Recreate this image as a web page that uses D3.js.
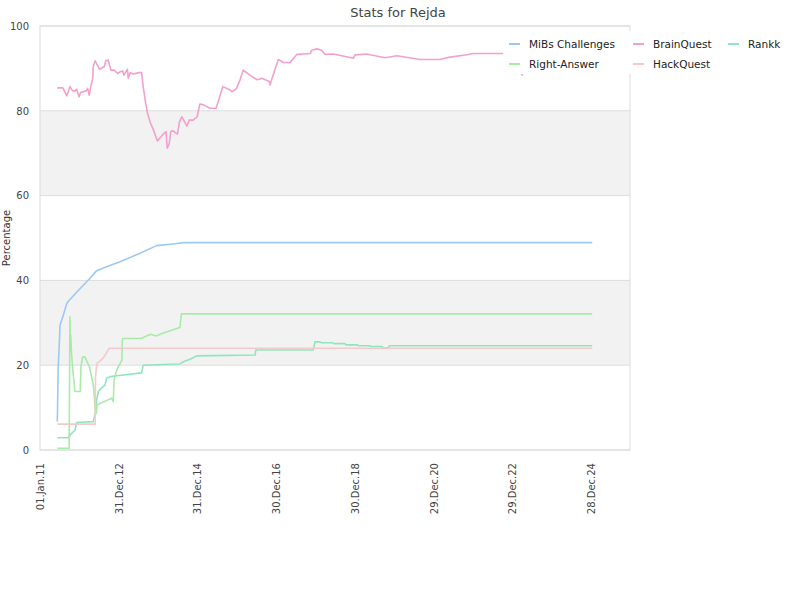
<!DOCTYPE html>
<html>
<head>
<meta charset="utf-8">
<script src="https://cdn.jsdelivr.net/npm/d3@7"></script>
<style>
  body { margin: 0; background: #fff; }
  svg { font-family: "DejaVu Sans", sans-serif; }
  .tick text { fill: #444; }
</style>
</head>
<body>
<svg id="chart" width="800" height="600"></svg>
<script>
// values, x as decimal years
var seriesNames = ['MiBs Challenges', 'BrainQuest', 'Rankk', 'Right-Answer', 'HackQuest'];
var seriesColors = ['#9cc8f4', '#f3a0cc', '#8ee6be', '#a8eba8', '#f5c9c9'];

var mibsPoints = [
    [2011.44, 6.7], [2011.46, 18.9], [2011.51, 29.5], [2011.58, 31.4], [2011.68, 34.6],
    [2011.76, 35.5], [2012.02, 38.1], [2012.27, 40.5], [2012.44, 42.3], [2012.69, 43.2],
    [2013.03, 44.4], [2013.54, 46.4], [2013.96, 48.2], [2014.38, 48.6], [2014.64, 48.9],
    [2025.02, 48.9]
];

var brainPoints = [
    [2011.44, 85.4], [2011.58, 85.4], [2011.68, 83.5], [2011.76, 85.7], [2011.83, 84.7],
    [2011.89, 84.7], [2011.93, 85.1], [2011.99, 83.3], [2012.03, 84.3], [2012.17, 84.7],
    [2012.21, 85.3], [2012.25, 83.7], [2012.29, 85.7], [2012.34, 87.7], [2012.35, 90.4],
    [2012.40, 91.8], [2012.51, 89.8], [2012.63, 90.4], [2012.67, 91.8], [2012.73, 92.0],
    [2012.80, 89.6], [2012.88, 89.6], [2012.97, 88.8], [2013.03, 89.2], [2013.10, 89.4],
    [2013.13, 88.4], [2013.22, 89.8], [2013.24, 87.7], [2013.29, 89.0], [2013.37, 88.7],
    [2013.50, 89.0], [2013.58, 89.0], [2013.62, 85.7], [2013.67, 82.5], [2013.73, 79.4],
    [2013.81, 77.0], [2013.88, 75.5], [2013.98, 72.9], [2014.15, 74.7], [2014.20, 75.1],
    [2014.23, 71.2], [2014.28, 72.2], [2014.32, 75.1], [2014.37, 75.3], [2014.49, 74.5],
    [2014.54, 77.4], [2014.60, 78.6], [2014.73, 76.4], [2014.79, 77.8], [2014.89, 77.8],
    [2014.99, 78.6], [2015.06, 81.6], [2015.15, 81.4], [2015.32, 80.6], [2015.47, 80.6],
    [2015.55, 82.9], [2015.64, 85.7], [2015.83, 84.9], [2015.87, 84.5], [2015.98, 85.1],
    [2016.08, 87.3], [2016.16, 89.6], [2016.33, 88.4], [2016.52, 87.3], [2016.63, 87.7],
    [2016.82, 86.9], [2016.84, 86.1], [2016.88, 87.3], [2017.05, 92.1], [2017.18, 91.4],
    [2017.35, 91.4], [2017.52, 93.3], [2017.86, 93.5], [2017.90, 94.3], [2018.03, 94.6],
    [2018.15, 94.3], [2018.24, 93.3], [2018.45, 93.4], [2018.96, 92.4], [2019.00, 93.2],
    [2019.30, 93.4], [2019.38, 93.2], [2019.76, 92.5], [2020.06, 93.0], [2020.65, 92.1],
    [2021.16, 92.1], [2021.37, 92.6], [2021.84, 93.2], [2022.00, 93.5], [2023.21, 93.5],
    [2023.24, 88.4], [2023.27, 93.5], [2025.02, 93.5]
];

var rankkPoints = [
    [2011.44, 2.9], [2011.72, 2.9], [2011.80, 3.9], [2011.89, 4.7], [2011.93, 6.5],
    [2012.35, 6.7], [2012.40, 8.6], [2012.44, 11.8], [2012.48, 13.8], [2012.56, 14.6],
    [2012.65, 15.3], [2012.69, 16.9], [2012.78, 17.3], [2012.95, 17.5], [2013.58, 18.2],
    [2013.62, 20.0], [2014.55, 20.3], [2014.64, 20.8], [2014.81, 21.4], [2014.98, 22.2],
    [2016.46, 22.4], [2016.48, 23.6], [2017.94, 23.6], [2017.98, 25.5], [2018.10, 25.5],
    [2018.15, 25.3], [2018.43, 25.3], [2018.45, 25.1], [2018.74, 25.1], [2018.77, 24.8],
    [2019.06, 24.8], [2019.08, 24.6], [2019.38, 24.6], [2019.40, 24.4], [2019.68, 24.4],
    [2019.71, 24.1], [2019.85, 24.1], [2019.87, 24.6], [2025.02, 24.6]
];

var rightPoints = [
    [2011.44, 0.4], [2011.74, 0.4], [2011.76, 31.4], [2011.77, 24.0], [2011.78, 27.0],
    [2011.80, 22.8], [2011.84, 18.1], [2011.89, 13.8], [2012.02, 13.8], [2012.04, 19.7],
    [2012.08, 21.9], [2012.14, 22.0], [2012.25, 19.7], [2012.31, 17.3], [2012.36, 14.9],
    [2012.40, 9.8], [2012.43, 8.6], [2012.45, 10.6], [2012.53, 11.0], [2012.82, 12.2],
    [2012.86, 11.4], [2012.88, 16.5], [2012.95, 18.9], [2013.08, 21.2], [2013.09, 25.9],
    [2013.10, 26.3], [2013.56, 26.3], [2013.81, 27.3], [2013.94, 26.9], [2014.10, 27.5],
    [2014.55, 28.9], [2014.59, 32.1], [2025.02, 32.1]
];

var hackPoints = [
    [2011.44, 6.1], [2012.40, 6.1], [2012.41, 17.3], [2012.44, 20.4], [2012.60, 21.6],
    [2012.76, 24.0], [2025.02, 24.0]
];

var yTicks = [0, 20, 40, 60, 80, 100];
var yBands = [[20, 40], [60, 80]];

function toDate(yr) {
    return new Date(new Date(2011, 0, 1).getTime() + (yr - 2011) * 365.25 * 864e5);
}

var allSeries = [mibsPoints, brainPoints, rankkPoints, rightPoints, hackPoints].map(function(pts, i) {
    return { name: seriesNames[i], color: seriesColors[i], values: pts.map(function(p) { return { date: toDate(p[0]), value: p[1] }; }) };
});

var plotLeft = 40, plotRight = 630, plotTop = 26, plotBottom = 450;
var svg = d3.select('#chart');

var x = d3.scaleTime()
    .domain([new Date(2011, 0, 1), new Date(2025, 11, 24)])
    .range([plotLeft, plotRight]);
var y = d3.scaleLinear().domain([0, 100]).range([plotBottom, plotTop]);

// bands and grid
svg.selectAll('.band')
    .data(yBands)
    .join('rect')
    .attr('x', plotLeft)
    .attr('width', plotRight - plotLeft)
    .attr('y', d => y(d[1]))
    .attr('height', d => y(d[0]) - y(d[1]))
    .attr('fill', '#f2f2f2');

svg.selectAll('.grid')
    .data(yTicks)
    .join('line')
    .attr('x1', plotLeft).attr('x2', plotRight)
    .attr('y1', d => y(d)).attr('y2', d => y(d))
    .attr('stroke', '#dcdcdc');

svg.append('rect')
    .attr('x', plotLeft).attr('y', plotTop)
    .attr('width', plotRight - plotLeft).attr('height', plotBottom - plotTop)
    .attr('fill', 'none').attr('stroke', '#dcdcdc');

// axes
var yAxis = svg.append('g')
    .attr('transform', 'translate(' + plotLeft + ',0)')
    .call(d3.axisLeft(y).tickValues(yTicks).tickSize(0).tickPadding(11))
    .attr('font-family', 'DejaVu Sans');
yAxis.select('.domain').remove();
yAxis.selectAll('text').attr('font-size', 10);

var xTicks = d3.range(8).map(i => d3.timeDay.offset(new Date(2011, 0, 1), i * 730));
var xAxis = svg.append('g')
    .attr('transform', 'translate(0,' + plotBottom + ')')
    .call(d3.axisBottom(x).tickValues(xTicks).tickFormat(d3.timeFormat('%d.%b.%y')).tickSize(0))
    .attr('font-family', 'DejaVu Sans');
xAxis.select('.domain').remove();
xAxis.selectAll('text')
    .attr('font-size', 10)
    .attr('text-anchor', 'end')
    .attr('transform', 'rotate(-90)')
    .attr('x', -13)
    .attr('y', 0)
    .attr('dy', '0.35em');

// lines
var line = d3.line().x(d => x(d.date)).y(d => y(d.value));
svg.selectAll('.series')
    .data(allSeries)
    .join('path')
    .attr('class', 'series')
    .attr('d', d => line(d.values))
    .attr('fill', 'none')
    .attr('stroke', d => d.color)
    .attr('stroke-width', 1.6)
    .attr('stroke-linejoin', 'round');

// title and y label
svg.append('text')
    .attr('x', 398).attr('y', 17)
    .attr('text-anchor', 'middle')
    .attr('font-size', 13)
    .attr('fill', '#444')
    .text('Stats for Rejda');

svg.append('text')
    .attr('transform', 'translate(10,238) rotate(-90)')
    .attr('text-anchor', 'middle')
    .attr('font-size', 10)
    .attr('fill', '#333')
    .text('Percentage');

// legend
var legendPos = [[509, 44], [633, 44], [728, 44], [509, 64], [633, 64]];
svg.append('rect')
    .attr('x', 503).attr('y', 31)
    .attr('width', 297).attr('height', 43)
    .attr('fill', '#fff');

var legend = svg.selectAll('.legend')
    .data(allSeries)
    .join('g')
    .attr('transform', (d, i) => 'translate(' + legendPos[i][0] + ',' + legendPos[i][1] + ')');
legend.append('line')
    .attr('x1', 0).attr('x2', 11)
    .attr('stroke', d => d.color)
    .attr('stroke-width', 2);
legend.append('text')
    .attr('x', 20)
    .attr('dy', '0.35em')
    .attr('font-size', 10.5)
    .attr('fill', '#222')
    .text(d => d.name);
</script>
</body>
</html>
